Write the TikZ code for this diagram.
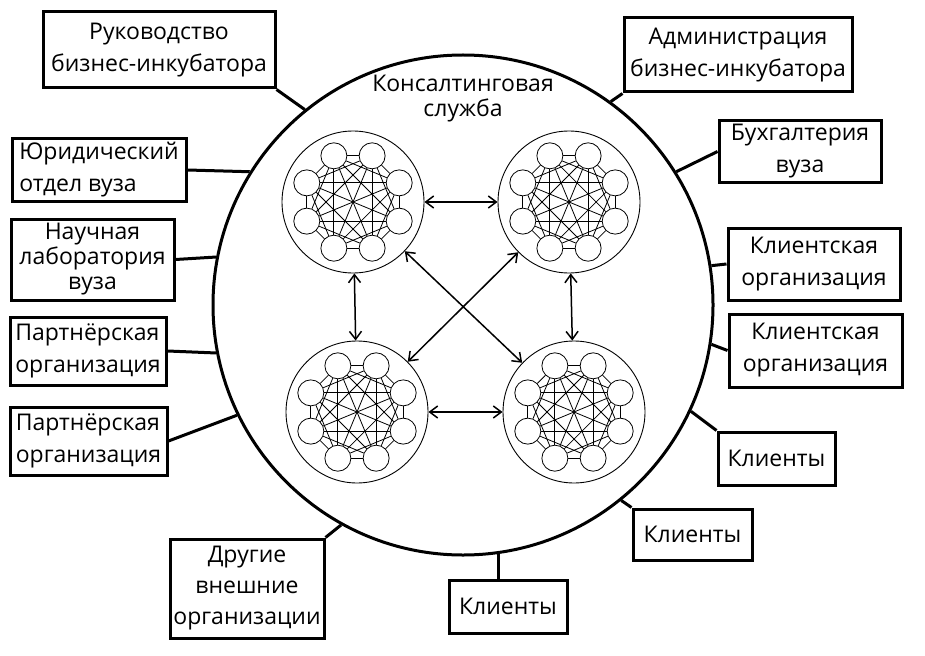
\documentclass[tikz,border=0pt]{standalone}
\usepackage{fontspec}
\setmainfont{Open Sans}
\usetikzlibrary{arrows.meta,calc}

\tikzset{
        box/.style={draw, line width=3pt, align=center, inner sep=2pt, font=\fontsize{23}{32}\selectfont},
        link/.style={line width=3pt},
        group/.style={draw, circle, line width=0.9pt, minimum size=142},
        member/.style={draw, circle, line width=0.8pt, minimum size=26, inner sep=0pt},
        tie/.style={line width=0.8pt},
        flow/.style={{Straight Barb[length=8pt,width=12pt]}-{Straight Barb[length=8pt,width=12pt]}, line width=1.5pt}
}

\begin{document}
\begin{tikzpicture}[x=1pt,y=-1pt]
        \useasboundingbox (0,0) rectangle (925,655);
        \node[draw, circle, line width=3pt, minimum size=500] (inc) at (463,305) {};
        \node[align=center, font=\fontsize{23}{25}\selectfont] (cons) at (463,99) {Консалтинговая\\служба};

        \foreach \n/\x/\y in {1/353/202, 2/569/202, 3/357/412, 4/574/412} {
                \node[group] (c\n) at (\x,\y) {};
                \foreach \k in {1,...,8}
                        \node[member] (c\n-\k) at ($(c\n)+(22.5+45*\k:50)$) {};
                \foreach \i in {1,...,8}
                        \foreach \j in {1,...,8}
                                {\ifnum\i<\j \draw[tie] (c\n-\i) -- (c\n-\j); \fi}
        }
        \draw[flow] (c1) -- (c2);
        \draw[flow] (c1) -- (c3);
        \draw[flow] (c2) -- (c4);
        \draw[flow] (c3) -- (c4);
        \draw[flow] (c1) -- (c4);
        \draw[flow] (c2) -- (c3);

        \node[box, minimum width=232, minimum height=76] (ruk) at (159,50) {Руководство\\бизнес-инкубатора};
        \node[box, minimum width=174, minimum height=62, align=left] (yur) at (99,170) {Юридический\\отдел вуза};
        \node[box, minimum width=163, minimum height=81, font=\fontsize{23}{25}\selectfont] (lab) at (92.5,259.5) {Научная\\лаборатория\\вуза};
        \node[box, minimum width=156, minimum height=68, align=left] (par1) at (88,351) {Партнёрская\\организация};
        \node[box, minimum width=157, minimum height=68, align=left] (par2) at (88.5,441) {Партнёрская\\организация};
        \node[box, minimum width=154, minimum height=99, font=\fontsize{23}{31}\selectfont] (dr) at (247,588.5) {Другие\\внешние\\организации};
        \node[box, minimum width=118, minimum height=53] (kl3) at (508,606.5) {Клиенты};
        \node[box, minimum width=119, minimum height=51] (kl2) at (692.5,534.5) {Клиенты};
        \node[box, minimum width=117, minimum height=53] (kl1) at (776.5,458.5) {Клиенты};
        \node[box, minimum width=173, minimum height=73] (ko2) at (815.5,350.5) {Клиентская\\организация};
        \node[box, minimum width=172, minimum height=72] (ko1) at (814,264) {Клиентская\\организация};
        \node[box, minimum width=162, minimum height=61] (bux) at (800,151.5) {Бухгалтерия\\вуза};
        \node[box, minimum width=228, minimum height=74] (adm) at (738,55) {Администрация\\бизнес-инкубатора};

        \draw[link] (ruk.south east) -- (inc.129);
        \draw[link] (yur.east) -- (inc.148);
        \draw[link] (lab.east) -- (inc.169);
        \draw[link] (par1.east) -- (inc.191);
        \draw[link] (par2.east) -- (inc.206);
        \draw[link] (dr.north east) -- (inc.241);
        \draw[link] (inc.278) -- (inc.278 |- kl3.north);
        \draw[link] (kl2.north west) -- (inc.309);
        \draw[link] (kl1.north west) -- (inc.335);
        \draw[link] (ko2.west) -- (inc.351);
        \draw[link] (ko1.west) -- (inc.9);
        \draw[link] (bux.west) -- (inc.32);
        \draw[link] (adm.south west) -- (inc.54);
\end{tikzpicture}
\end{document}
